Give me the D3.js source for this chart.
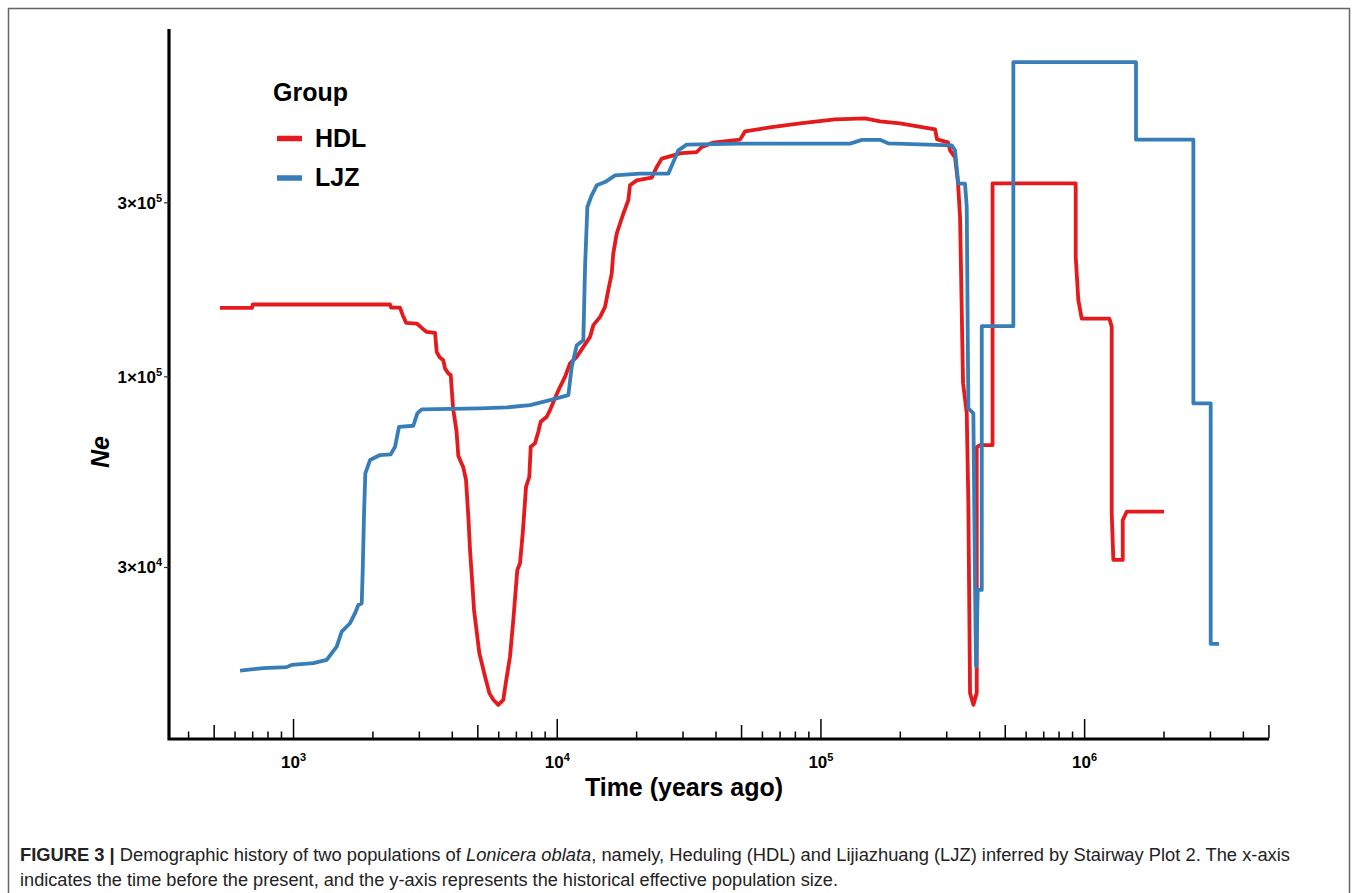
<!DOCTYPE html>
<html>
<head>
<meta charset="utf-8">
<script src="https://cdn.jsdelivr.net/npm/d3@7"></script>
<style>
  body { margin: 0; background: #fff; }
  text { font-family: "Liberation Sans", Arial, sans-serif; }
</style>
</head>
<body>
<svg id="chart" width="1357" height="893"></svg>
<script>
// stairway plot medians: [years ago, Ne]
const hdl = [
  [526, 154500], [696, 154500], [700, 157900], [2323, 157900], [2344, 154900], [2534, 154900],
  [2595, 147600], [2672, 140600], [2933, 140000], [3063, 136200], [3200, 132800], [3441, 132000],
  [3491, 117100], [3572, 113400], [3698, 111100], [3754, 105400], [3864, 102200], [3946, 101100],
  [4026, 82100], [4150, 70970], [4217, 60640], [4405, 56380], [4510, 52120], [4601, 41350],
  [4670, 33500], [4782, 26030], [4836, 22950], [5065, 17470], [5324, 15070], [5528, 13570],
  [5724, 13010], [5978, 12600], [6246, 13010], [6394, 14600], [6622, 17100], [6815, 21550],
  [7057, 29540], [7226, 30820], [7400, 37240], [7616, 49950], [7838, 53210], [7934, 64290],
  [8237, 65700], [8478, 70670], [8657, 75290], [9125, 77700], [9391, 81050], [9810, 87440],
  [10250, 93890], [10700, 100000], [11180, 108800], [11860, 113400], [12560, 120800], [13320, 128700],
  [13710, 138600], [14540, 146000], [15180, 155600], [15620, 172800], [16090, 192000], [16310, 217800],
  [16810, 247100], [17300, 263200], [17810, 280400], [18600, 304900], [18880, 335100], [20020, 345800],
  [22820, 351800], [23840, 376000], [24910, 396600], [27560, 405000], [29660, 410900], [33820, 413500],
  [35320, 426800], [39080, 438800], [49350, 447200], [51560, 471200], [64120, 483200], [83330, 495600],
  [113100, 508200], [147000, 511400], [167500, 501800], [199500, 495600], [271000, 477200], [275600, 448000],
  [303400, 439500], [308800, 417900], [322500, 399900], [331100, 339400], [337000, 273900], [345900, 96100],
  [357200, 79510], [362300, 45080], [367700, 13590], [378500, 12600], [389800, 13590], [389800, 64170],
  [401200, 65000], [447500, 65000], [447500, 339400], [925100, 339400], [925100, 213200], [946500, 162300],
  [975000, 144500], [1241000, 144500], [1267000, 137100], [1267000, 42250], [1285000, 31470], [1395000, 31470],
  [1395000, 40500], [1445000, 42670], [2000000, 42670]
];

const ljz = [
  [627, 15650], [768, 15890], [942, 15990], [984, 16220], [1189, 16400], [1336, 16740],
  [1396, 17470], [1458, 18210], [1523, 20010], [1638, 21100], [1711, 22480], [1761, 23680],
  [1814, 23940], [1830, 29540], [1851, 42250], [1872, 54360], [1950, 59130], [2128, 61030],
  [2337, 61290], [2426, 64290], [2512, 72950], [2846, 73420], [2948, 79370], [3063, 81420],
  [5095, 81930], [6433, 82450], [7886, 83640], [9391, 86340], [11020, 89100], [11350, 106500],
  [11860, 122100], [12560, 126000], [12750, 200200], [13010, 292300], [13510, 314700], [14120, 335100],
  [15180, 342100], [16570, 357000], [20610, 360800], [26380, 360800], [27560, 388200], [28790, 417900],
  [30980, 433400], [49350, 436100], [128900, 436100], [143200, 446600], [167500, 446600], [179700, 436900],
  [313300, 431400], [322500, 417900], [331900, 338800], [351900, 338800], [357200, 292300], [362300, 81930],
  [378500, 79370], [384100, 26590], [387500, 16050], [393200, 26030], [407300, 26030], [407300, 137700],
  [536600, 137700], [536600, 729500], [1566000, 729500], [1566000, 447200], [2584000, 447200], [2584000, 84550],
  [3007000, 84550], [3007000, 18520], [3234000, 18520]
];

const groups = ['HDL', 'LJZ'];
const groupColors = ['#E41A1C', '#377EB8'];
const xTickVals = [1e3, 1e4, 1e5, 1e6];
const yTickVals = [3e4, 1e5, 3e5];

const svg = d3.select('#chart');

// ggplot-like 5% expansion in log space
function expandLog(ext) {
  var a = Math.log10(ext[0]), b = Math.log10(ext[1]), p = (b - a) * 0.05;
  return [Math.pow(10, a - p), Math.pow(10, b + p)];
}

var all = hdl.concat(ljz);
var x = d3.scaleLog().domain(expandLog(d3.extent(all, d => d[0]))).range([170, 1269]);
var y = d3.scaleLog().domain(expandLog(d3.extent(all, d => d[1]))).range([737, 30]);

//figure frame
svg.append('rect')
  .attr('x', 8.5).attr('y', 8.5)
  .attr('width', 1341).attr('height', 900)
  .attr('fill', 'none')
  .attr('stroke', '#666')
  .attr('stroke-width', 1.5);

//log ticks along the bottom (inside the panel)
var logTicks = [];
d3.range(2, 7).forEach(function(p) {
  d3.range(1, 10).forEach(function(m) {
    var v = m * Math.pow(10, p);
    if (v >= x.domain()[0] && v <= x.domain()[1]) logTicks.push({ v: v, m: m });
  });
});
svg.append('g')
  .selectAll('line')
  .data(logTicks)
  .enter()
  .append('line')
  .attr('x1', d => x(d.v)).attr('x2', d => x(d.v))
  .attr('y1', 738)
  .attr('y2', d => 738 - (d.m === 1 ? 19 : d.m === 5 ? 13 : 6.5))
  .attr('stroke', '#000')
  .attr('stroke-width', 1.5);

//axis lines
svg.append('path')
  .attr('d', 'M169,29V739H1269')
  .attr('fill', 'none')
  .attr('stroke', '#000')
  .attr('stroke-width', 3.2);

//y ticks + labels
var yg = svg.append('g').selectAll('g').data(yTickVals).enter().append('g');
yg.append('line')
  .attr('x1', 164).attr('x2', 169)
  .attr('y1', d => y(d)).attr('y2', d => y(d))
  .attr('stroke', '#333').attr('stroke-width', 1.2);
var yt = yg.append('text')
  .attr('x', 162)
  .attr('y', d => y(d) + 6)
  .attr('text-anchor', 'end')
  .attr('font-size', 17)
  .attr('font-weight', 'bold');
yt.append('tspan').text(d => {
  var e = Math.floor(Math.log10(d));
  return Math.round(d / Math.pow(10, e)) + '\u00d710';
});
yt.append('tspan')
  .attr('font-size', 11)
  .attr('dy', -7)
  .text(d => Math.floor(Math.log10(d)));

//x labels
var xt = svg.append('g').selectAll('text').data(xTickVals).enter().append('text')
  .attr('x', d => x(d))
  .attr('y', 768)
  .attr('text-anchor', 'middle')
  .attr('font-size', 17)
  .attr('font-weight', 'bold');
xt.append('tspan').text('10');
xt.append('tspan')
  .attr('font-size', 11)
  .attr('dy', -7)
  .text(d => Math.round(Math.log10(d)));

//axis titles
svg.append('text')
  .attr('x', 684).attr('y', 796)
  .attr('text-anchor', 'middle')
  .attr('font-size', 25)
  .attr('font-weight', 'bold')
  .text('Time (years ago)');

svg.append('text')
  .attr('transform', 'translate(109,452) rotate(-90)')
  .attr('text-anchor', 'middle')
  .attr('font-size', 25)
  .attr('font-weight', 'bold')
  .attr('font-style', 'italic')
  .text('Ne');

//lines
var line = d3.line()
  .x(d => x(d[0]))
  .y(d => y(d[1]));

svg.append('g')
  .selectAll('path')
  .data([hdl, ljz])
  .enter()
  .append('path')
  .attr('d', line)
  .attr('fill', 'none')
  .attr('stroke', (d, i) => groupColors[i])
  .attr('stroke-width', 3.8)
  .attr('stroke-linejoin', 'round')
  .attr('stroke-linecap', 'butt');

//legend
var legend = svg.append('g');
legend.append('text')
  .attr('x', 273).attr('y', 101)
  .attr('font-size', 25)
  .attr('font-weight', 'bold')
  .text('Group');
var items = legend.selectAll('g.item').data(groups).enter().append('g').attr('class', 'item');
items.append('line')
  .attr('x1', 277).attr('x2', 302)
  .attr('y1', (d, i) => 138.5 + i * 39.5)
  .attr('y2', (d, i) => 138.5 + i * 39.5)
  .attr('stroke', (d, i) => groupColors[i])
  .attr('stroke-width', 5.5);
items.append('text')
  .attr('x', 315)
  .attr('y', (d, i) => 146.5 + i * 39.5)
  .attr('font-size', 25)
  .attr('font-weight', 'bold')
  .text(d => d);

//caption (narrow face squeezed via textLength)
var cap1 = svg.append('text')
  .attr('x', 20).attr('y', 861)
  .attr('font-size', 17.5)
  .attr('textLength', 1270)
  .attr('lengthAdjust', 'spacingAndGlyphs')
  .attr('fill', '#222');
cap1.append('tspan').attr('font-weight', 'bold').text('FIGURE 3 |');
cap1.append('tspan').text(' Demographic history of two populations of ');
cap1.append('tspan').attr('font-style', 'italic').text('Lonicera oblata');
cap1.append('tspan').text(', namely, Heduling (HDL) and Lijiazhuang (LJZ) inferred by Stairway Plot 2. The x-axis');

svg.append('text')
  .attr('x', 20).attr('y', 886)
  .attr('font-size', 17.5)
  .attr('textLength', 818)
  .attr('lengthAdjust', 'spacingAndGlyphs')
  .attr('fill', '#222')
  .text('indicates the time before the present, and the y-axis represents the historical effective population size.');
</script>
</body>
</html>
